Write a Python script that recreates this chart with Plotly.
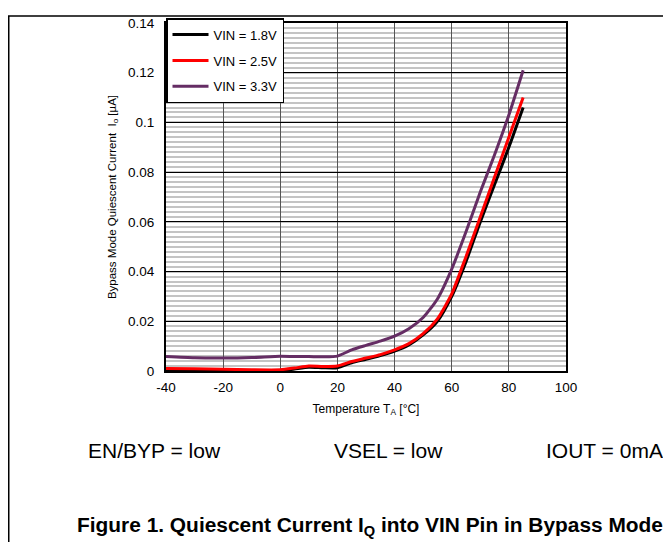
import plotly.graph_objects as go

# ---- data ----
temps = [-40, -30, -20, -10, 0, 5, 10, 15, 20, 25, 30, 35, 40, 45, 50, 55, 60, 65, 70, 75, 80, 85]
vin_18 = [0.0005, 0.0004, 0.0002, 0.0001, 0.0001, 0.0008, 0.0015, 0.0013, 0.0013, 0.0033, 0.0047,
          0.0062, 0.0080, 0.0105, 0.0145, 0.0200, 0.0300, 0.0440, 0.0600, 0.0750, 0.0900, 0.1060]
vin_25 = [0.0010, 0.0009, 0.0007, 0.0005, 0.0005, 0.0012, 0.0020, 0.0018, 0.0020, 0.0038, 0.0052,
          0.0066, 0.0085, 0.0110, 0.0150, 0.0210, 0.0310, 0.0460, 0.0620, 0.0780, 0.0940, 0.1100]
vin_33 = [0.0058, 0.0053, 0.0052, 0.0054, 0.0059, 0.0058, 0.0058, 0.0057, 0.0060, 0.0085, 0.0103,
          0.0120, 0.0140, 0.0170, 0.0215, 0.0290, 0.0410, 0.0560, 0.0720, 0.0870, 0.1030, 0.1210]
series_names = ["VIN = 1.8V", "VIN = 2.5V", "VIN = 3.3V"]
series_colors = ["#000000", "#ff0000", "#652d64"]
x_ticks = [-40, -20, 0, 20, 40, 60, 80, 100]
x_tick_text = ["-40", "-20", "0", "20", "40", "60", "80", "100"]
y_ticks = [0, 0.02, 0.04, 0.06, 0.08, 0.1, 0.12, 0.14]
y_tick_text = ["0", "0.02", "0.04", "0.06", "0.08", "0.1", "0.12", "0.14"]
notes = ["EN/BYP = low", "VSEL = low", "IOUT = 0mA"]
caption = "Figure 1. Quiescent Current I<sub>Q</sub> into VIN Pin in Bypass Mode"

FONT = "Liberation Sans, Arial, Helvetica, sans-serif"
OFF = 8  # page body margin of the html page
W, H = 671 - OFF, 542 - OFF
ML, MR, MT, MB = 166 - OFF, 105, 16 - OFF, 171
PW, PH = W - ML - MR, H - MT - MB


def px(x):
    """page x pixel -> paper coordinate"""
    return (x - OFF - ML) / PW


def py(y):
    """page y pixel -> paper coordinate"""
    return (H - MB - (y - OFF)) / PH


fig = go.Figure()
for i, (name, vals, col) in enumerate(zip(series_names, [vin_18, vin_25, vin_33], series_colors)):
    fig.add_trace(go.Scatter(
        x=temps, y=vals, mode="lines", name=name, legendgroup=str(i),
        line=dict(color=col, width=3, shape="spline", smoothing=0.6),
    ))

fig.update_layout(
    width=W, height=H,
    margin=dict(l=ML, r=MR, t=MT, b=MB, pad=0),
    paper_bgcolor="white", plot_bgcolor="white",
    font=dict(family=FONT, size=13, color="#000000"),
    showlegend=True,
    legend=dict(
        x=0, y=py(11), xanchor="left", yanchor="top",
        bgcolor="white", bordercolor="#000000", borderwidth=1.5,
        font=dict(family=FONT, size=13, color="#000000"),
        traceorder="grouped", tracegroupgap=6, itemwidth=36,
    ),
    xaxis=dict(
        range=[-40, 100], tickvals=x_ticks, ticktext=x_tick_text, ticks="", ticklabelstandoff=3,
        showgrid=True, gridcolor="#555555", gridwidth=1.2,
        showline=True, linecolor="#000000", linewidth=2, mirror=True,
        zeroline=False, tickfont=dict(size=13.5),
        title=dict(text="Temperature T<sub>A</sub> [°C]", font=dict(size=12), standoff=10),
    ),
    yaxis=dict(
        range=[0, 0.14], tickvals=y_ticks, ticktext=y_tick_text, ticks="", ticklabelstandoff=7,
        showgrid=True, gridcolor="#000000", gridwidth=1,
        minor=dict(dtick=0.002, showgrid=True, gridcolor="#c4c4c4", gridwidth=1.6),
        showline=True, linecolor="#000000", linewidth=2, mirror=True,
        zeroline=False, tickfont=dict(size=13.5),
        title=dict(text="Bypass Mode Quiescent Current&nbsp;&nbsp;I<sub>o</sub> [µA]",
                   font=dict(size=11.5), standoff=9),
    ),
)

# frame around the figure (left and top edges visible)
fig.add_shape(type="rect", xref="paper", yref="paper",
              x0=px(OFF + 0.75), x1=px(720), y0=py(620), y1=py(OFF + 0.75),
              line=dict(color="#000000", width=1.5), fillcolor="rgba(0,0,0,0)", layer="below")

for txt, cx in zip(notes, [154, 388, 604]):
    fig.add_annotation(text=txt, xref="paper", yref="paper", x=px(cx), y=py(452),
                       xanchor="center", yanchor="middle", showarrow=False,
                       font=dict(family=FONT, size=21, color="#000000"))

fig.add_annotation(text="<b>" + caption + "</b>", xref="paper", yref="paper",
                   x=px(75), y=py(529), xanchor="left", yanchor="middle", showarrow=False,
                   font=dict(family=FONT, size=20.9, color="#000000"))

fig.write_html("out.html")
